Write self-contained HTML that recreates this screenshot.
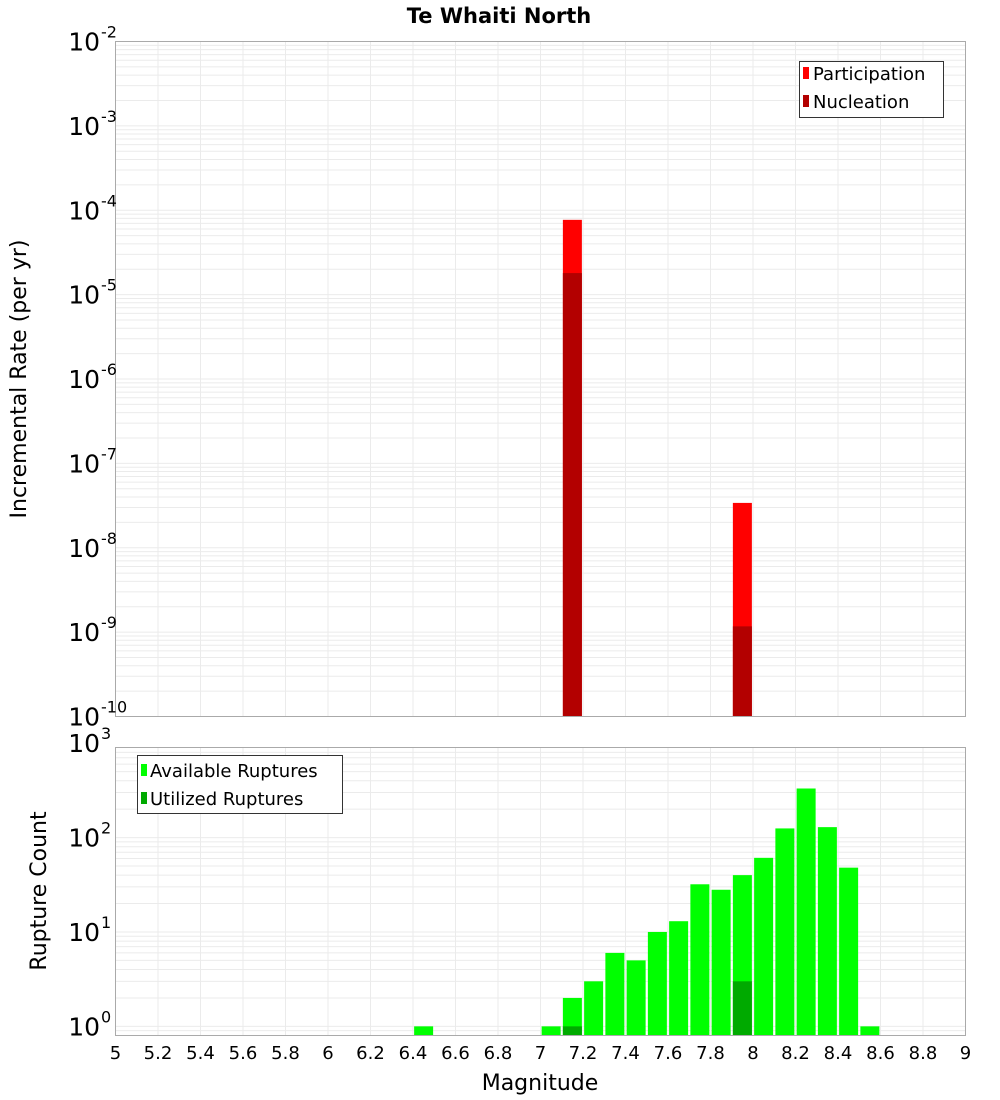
<!DOCTYPE html>
<html><head><meta charset="utf-8"><style>
body{margin:0;background:#fff}
svg{display:block;font-family:"DejaVu Sans","Liberation Sans",sans-serif}
</style></head><body>
<svg id="c" width="1000" height="1100" viewBox="0 0 1000 1100" xmlns="http://www.w3.org/2000/svg">
<text x="499" y="23" text-anchor="middle" font-size="21" font-weight="bold">Te Whaiti North</text>
<g id="top"></g>
<g id="bot"></g>
<text transform="translate(26,379) rotate(-90)" text-anchor="middle" font-size="22">Incremental Rate (per yr)</text>
<text transform="translate(46,891) rotate(-90)" text-anchor="middle" font-size="22">Rupture Count</text>
<text x="540" y="1090" text-anchor="middle" font-size="22">Magnitude</text>
<g>
<rect x="799.5" y="61.5" width="144" height="56" fill="#fff" stroke="#333"/>
<rect x="803" y="67" width="6" height="12" fill="#ff0000"/>
<text x="813" y="80" font-size="18">Participation</text>
<rect x="803" y="95" width="6" height="12" fill="#b30000"/>
<text x="813" y="108" font-size="18">Nucleation</text>
</g>
<g>
<rect x="137.5" y="755.5" width="205" height="58" fill="#fff" stroke="#333"/>
<rect x="141" y="764" width="6" height="12" fill="#00ff00"/>
<text x="150" y="777" font-size="18">Available Ruptures</text>
<rect x="141" y="792" width="6" height="12" fill="#00aa00"/>
<text x="150" y="805" font-size="18">Utilized Ruptures</text>
</g>
</svg>
<script>
const rateMags = [7.15, 7.95];
const participation = [7.7e-5, 3.4e-8];
const nucleation = [1.8e-5, 1.17e-9];
const countMags = [6.45,7.05,7.15,7.25,7.35,7.45,7.55,7.65,7.75,7.85,7.95,8.05,8.15,8.25,8.35,8.45,8.55];
const available = [1,1,2,3,6,5,10,13,32,28,40,61,125,331,129,48,1];
const utilizedMags = [7.15, 7.95];
const utilized = [1, 3];
const xTicks = [5,5.2,5.4,5.6,5.8,6,6.2,6.4,6.6,6.8,7,7.2,7.4,7.6,7.8,8,8.2,8.4,8.6,8.8,9];
const rateExps = [-2,-3,-4,-5,-6,-7,-8,-9,-10];
const countExps = [3,2,1,0];

const NS="http://www.w3.org/2000/svg";
const X0=115.5,X1=965.5;
const x=m=>X0+(m-5)/4*(X1-X0);
function mk(p,t,a){const e=document.createElementNS(NS,t);for(const k in a)e.setAttribute(k,a[k]);p.appendChild(e);return e;}
const T={top:41.5,bot:716.5,lmin:-10,lmax:-2};
const B={top:747.5,bot:1035.5,lmin:Math.log10(0.8),lmax:Math.log10(900)};
const yT=v=>T.bot-(Math.log10(v)-T.lmin)/(T.lmax-T.lmin)*(T.bot-T.top);
const yB=v=>B.bot-(Math.log10(v)-B.lmin)/(B.lmax-B.lmin)*(B.bot-B.top);
function grid(g,P,yf,dlo,dhi){
  for(let d=dlo;d<=dhi;d++)for(let k=1;k<10;k++){const v=k*Math.pow(10,d);const yy=yf(v);
    if(yy<P.top-0.1||yy>P.bot+0.1)continue;
    const l=mk(g,'line',{x1:X0,x2:X1,y1:yy,y2:yy,stroke:'#ebebeb','stroke-width':1});
    }
  xTicks.forEach(t=>{const l=mk(g,'line',{x1:x(t),x2:x(t),y1:P.top,y2:P.bot,stroke:'#ebebeb'});
    });
}
function frame(g,P){const r=mk(g,'rect',{x:X0,y:P.top,width:X1-X0,height:P.bot-P.top,fill:'none',stroke:'#aaa'});
  }
function ylab(g,e,yy){const t=mk(g,'text',{x:100,y:yy+9,'text-anchor':'end','font-size':25});t.textContent='10';
  
  const s=mk(g,'text',{x:101,y:yy-4,'font-size':16});s.textContent=String(e);
  }
const gt=document.getElementById('top'),gb=document.getElementById('bot');
grid(gt,T,yT,-10,-3);
const bw=19;
rateMags.forEach((m,i)=>{
  const yp=yT(participation[i]);
  const r=mk(gt,'rect',{x:x(m)-bw/2,y:yp,width:bw,height:T.bot-yp,fill:'#ff0000'});
  
  const yn=yT(nucleation[i]);
  const n=mk(gt,'rect',{x:x(m)-bw/2,y:yn,width:bw,height:T.bot-yn,fill:'#b30000'});
  
});
frame(gt,T);
rateExps.forEach(e=>ylab(gt,e,yT(Math.pow(10,e))));
grid(gb,B,yB,-1,2);
countMags.forEach((m,i)=>{const yy=yB(available[i]);
  const r=mk(gb,'rect',{x:x(m)-bw/2,y:yy,width:bw,height:B.bot-yy,fill:'#00ff00'});
  });
utilizedMags.forEach((m,i)=>{const yy=yB(utilized[i]);
  const r=mk(gb,'rect',{x:x(m)-bw/2,y:yy,width:bw,height:B.bot-yy,fill:'#00aa00'});
  });
frame(gb,B);
countExps.forEach(e=>ylab(gb,e,yB(Math.pow(10,e))));
xTicks.forEach(t=>{const l=mk(gb,'text',{x:x(t),y:1059,'text-anchor':'middle','font-size':18});l.textContent=String(t);
  });
</script>
</body></html>
